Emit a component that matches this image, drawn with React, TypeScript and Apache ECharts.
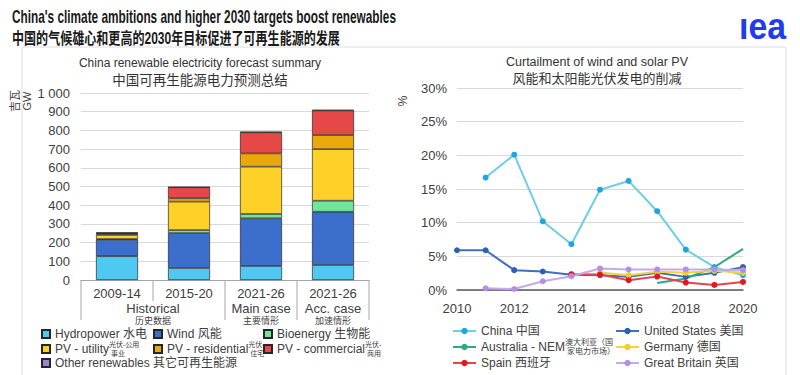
import React, { useEffect, useRef } from 'react';
import * as echarts from 'echarts';

const FONT = "'Liberation Sans', Arial, 'Noto Sans CJK SC', sans-serif";
const TXT = '#404040';

// ---------- Left chart data (GW) ----------
const categories = ['2009-14 hist', '2015-20 hist', '2021-26 main', '2021-26 acc'];
const categoryLabels = ['2009-14', '2015-20', '2021-26', '2021-26'];
const groupLabels = ['Historical', 'Main case', 'Acc. case'];
const groupSubLabels = ['历史数据', '主要情形', '加速情形'];
const groupSpans = [[0, 1], [2, 2], [3, 3]];
const hydropower = [127, 64, 75, 80];
const wind = [88, 187, 255, 285];
const bioenergy = [4, 16, 23, 59];
const pvUtility = [22, 152, 253, 276];
const pvResidential = [6, 18, 71, 75];
const pvCommercial = [5, 59, 113, 132];
const otherRenewables = [1, 1, 2, 2];

// ---------- Right chart data (% curtailment) ----------
const years = [2010, 2011, 2012, 2013, 2014, 2015, 2016, 2017, 2018, 2019, 2020];
const china = [null, 16.7, 20.1, 10.2, 6.8, 14.9, 16.2, 11.7, 6.0, 3.4, 2.2];
const unitedStates = [5.9, 5.9, 2.95, 2.75, 2.25, 2.2, 1.95, 2.55, 1.95, 2.55, 3.4];
const australia = [null, null, null, null, null, null, null, 1.05, 1.7, 3.4, 6.1];
const germany = [null, null, null, null, null, 2.6, 2.2, 2.7, 2.55, 2.85, 2.55];
const spain = [null, null, null, null, 2.35, 2.3, 1.45, 2.0, 1.1, 0.75, 1.2];
const greatBritain = [null, 0.25, 0.15, 1.3, 2.05, 3.2, 3.05, 3.05, 3.05, 3.05, 2.95];

const toPairs = (vals: (number | null)[]) =>
  years.map((y, i) => [y, vals[i]]).filter((p) => p[1] !== null);

const measure = (text: string, font: string) => {
  const ctx = document.createElement('canvas').getContext('2d')!;
  ctx.font = font;
  return ctx.measureText(text).width;
};

export default function App() {
  const ref = useRef<HTMLDivElement>(null);

  useEffect(() => {
    if (!ref.current) return;
    const chart = echarts.init(ref.current, undefined, { renderer: 'svg' });

    const barSeries = [
      { name: 'Hydropower 水电', data: hydropower, color: '#4fc8f2' },
      { name: 'Wind 风能', data: wind, color: '#3b6fcb' },
      { name: 'Bioenergy 生物能', data: bioenergy, color: '#6fe69a' },
      { name: 'PV - utility', data: pvUtility, color: '#ffd027' },
      { name: 'PV - residential', data: pvResidential, color: '#eaa80a' },
      { name: 'PV - commercial', data: pvCommercial, color: '#e64848' },
      { name: 'Other renewables 其它可再生能源', data: otherRenewables, color: '#9d83d8' },
    ].map((s) => ({
      type: 'bar',
      name: s.name,
      stack: 'total',
      xAxisIndex: 0,
      yAxisIndex: 0,
      barWidth: 42,
      data: s.data,
      itemStyle: { color: s.color, borderColor: '#262626', borderWidth: 0.7 },
    }));

    const lineDefs = [
      { name: 'China 中国', data: china, line: '#6ccfe6', dot: '#1fa6de', symbol: true },
      { name: 'United States 美国', data: unitedStates, line: '#3f70b7', dot: '#2a62ad', symbol: true },
      { name: 'Australia - NEM', data: australia, line: '#2fa884', dot: '#2fa884', symbol: false },
      { name: 'Germany 德国', data: germany, line: '#f5d13b', dot: '#f5cc2a', symbol: true },
      { name: 'Spain 西班牙', data: spain, line: '#e0474d', dot: '#e8141e', symbol: true },
      { name: 'Great Britain 英国', data: greatBritain, line: '#c5a9ef', dot: '#b48ee8', symbol: true },
    ];
    const lineSeries = lineDefs.map((s) => ({
      type: 'line',
      name: s.name,
      xAxisIndex: 1,
      yAxisIndex: 1,
      data: toPairs(s.data),
      symbol: s.symbol ? 'circle' : 'none',
      symbolSize: 6,
      lineStyle: { color: s.line, width: 2 },
      itemStyle: { color: s.dot },
    }));

    const legendText = { color: TXT, fontSize: 12, fontFamily: FONT };
    const leftLegendPos: [string, number, number][] = [
      ['Hydropower 水电', 41, 334],
      ['Wind 风能', 153, 334],
      ['Bioenergy 生物能', 263, 334],
      ['PV - utility', 41, 349],
      ['PV - residential', 153, 349],
      ['PV - commercial', 263, 349],
      ['Other renewables 其它可再生能源', 41, 363],
    ];
    const rightLegendPos: [string, number, number][] = [
      ['China 中国', 452, 331],
      ['United States 美国', 615, 331],
      ['Australia - NEM', 452, 347],
      ['Germany 德国', 615, 347],
      ['Spain 西班牙', 452, 363],
      ['Great Britain 英国', 615, 363],
    ];
    const legends = [
      ...leftLegendPos.map(([n, l, c]) => ({
        data: [n], left: l, top: c - 6, itemWidth: 8, itemHeight: 8, icon: 'rect',
        padding: 0, textStyle: { ...legendText, lineHeight: 12 },
      })),
      ...rightLegendPos.map(([n, l, c]) => ({
        data: [n], left: l, top: c - 6, itemWidth: 23, itemHeight: 8,
        padding: 0, textStyle: { ...legendText, lineHeight: 12 },
      })),
    ];

    const option: any = {
      animation: false,
      textStyle: { fontFamily: FONT },
      legend: legends,
      grid: [
        { left: 81, right: 431, top: 93, bottom: 95 },
        { left: 457, right: 57, top: 88, bottom: 85 },
      ],
      xAxis: [
        {
          type: 'category', gridIndex: 0, data: categories,
          axisLine: { lineStyle: { color: '#a6a6a6', width: 1 } },
          axisTick: { show: false },
          axisLabel: {
            color: TXT, fontSize: 13, margin: 7,
            formatter: (_v: string, i: number) => categoryLabels[i],
          },
        },
        {
          type: 'value', gridIndex: 1, min: 2010, max: 2020, interval: 2,
          axisLine: { show: true, lineStyle: { color: '#595959', width: 1.5 } },
          axisTick: { show: false },
          splitLine: { show: false },
          axisLabel: { color: TXT, fontSize: 13, margin: 12, formatter: (v: number) => String(v) },
        },
      ],
      yAxis: [
        {
          type: 'value', gridIndex: 0, min: 0, max: 1000, interval: 100,
          axisLine: { show: false }, axisTick: { show: false },
          splitLine: { lineStyle: { color: '#d9d9d9' } },
          axisLabel: {
            color: TXT, fontSize: 13, margin: 11,
            formatter: (v: number) => String(v).replace(/\B(?=(\d{3})+(?!\d))/g, ' '),
          },
        },
        {
          type: 'value', gridIndex: 1, min: 0, max: 30, interval: 5,
          axisLine: { show: false }, axisTick: { show: false },
          splitLine: { lineStyle: { color: '#d9d9d9' } },
          axisLabel: { color: TXT, fontSize: 13, margin: 10, formatter: '{value}%' },
        },
      ],
      series: [...barSeries, ...lineSeries],
    };
    chart.setOption(option);

    // ---- decorations computed from the axes ----
    const xs = categories.map((_, i) => chart.convertToPixel({ xAxisIndex: 0 } as any, i) as number);
    const y0 = chart.convertToPixel({ yAxisIndex: 0 } as any, 0) as number;
    const band = xs[1] - xs[0];
    const bounds = [...xs.map((x) => x - band / 2), xs[xs.length - 1] + band / 2];
    const groupStarts = new Set(groupSpans.map((g) => g[0]));
    const elements: any[] = [];

    elements.push({
      type: 'rect', shape: { x: 22, y: 47, width: 764, height: 345, r: 2 },
      style: { fill: 'none', stroke: '#dcdcdc', lineWidth: 1 }, z: -10, silent: true,
    });

    bounds.forEach((bx, i) => {
      const long = i === bounds.length - 1 || groupStarts.has(i);
      elements.push({
        type: 'line', shape: { x1: bx, y1: y0, x2: bx, y2: y0 + (long ? 40 : 21) },
        style: { stroke: '#a6a6a6', lineWidth: 1 }, silent: true,
      });
    });
    groupSpans.forEach((g, k) => {
      const cx = (xs[g[0]] + xs[g[1]]) / 2;
      elements.push({
        type: 'text', x: cx, y: y0 + 28,
        style: { text: groupLabels[k], fontSize: 13, fontFamily: FONT, fill: TXT, textAlign: 'center', textVerticalAlign: 'middle' },
      });
      elements.push({
        type: 'text', x: cx, y: y0 + 41,
        style: { text: groupSubLabels[k], fontSize: 9, fontFamily: FONT, fill: TXT, textAlign: 'center', textVerticalAlign: 'middle' },
      });
    });

    // Titles
    const t1 = "China's climate ambitions and higher 2030 targets boost renewables";
    const t1Font = `bold 18px ${FONT}`;
    const t2 = '中国的气候雄心和更高的2030年目标促进了可再生能源的发展';
    const t2Font = `bold 16px ${FONT}`;
    elements.push({
      type: 'text', x: 12, y: 16, scaleX: 384 / measure(t1, t1Font),
      style: { text: t1, fontSize: 18, fontWeight: 'bold', fontFamily: FONT, fill: '#1a1a1a', textVerticalAlign: 'middle' },
    });
    elements.push({
      type: 'text', x: 12, y: 38, scaleX: 328 / measure(t2, t2Font),
      style: { text: t2, fontSize: 16, fontWeight: 'bold', fontFamily: FONT, fill: '#1a1a1a', textVerticalAlign: 'middle' },
    });
    const logoFont = `bold 36px ${FONT}`;
    elements.push({
      type: 'text', x: 739, y: 26, scaleX: 47 / measure('ıea', logoFont),
      style: { text: 'ıea', fontSize: 36, fontWeight: 'bold', fontFamily: FONT, fill: '#1f3cf0', textVerticalAlign: 'middle' },
    });

    // Chart titles
    const ctitle = (text: string, x: number, y: number, size: number) => ({
      type: 'text', x, y,
      style: { text, fontSize: size, fontFamily: FONT, fill: '#333', textAlign: 'center', textVerticalAlign: 'middle' },
    });
    elements.push(ctitle('China renewable electricity forecast summary', 200, 63, 12));
    elements.push(ctitle('中国可再生能源电力预测总结', 200, 80, 13.5));
    elements.push(ctitle('Curtailment of wind and solar PV', 597, 62, 12.5));
    elements.push(ctitle('风能和太阳能光伏发电的削减', 597, 78, 13));

    // Axis names
    elements.push({
      type: 'text', x: 21, y: 101, rotation: Math.PI / 2,
      style: { text: '吉瓦\nGW', fontSize: 11, lineHeight: 12, fontFamily: FONT, fill: TXT, textAlign: 'center', textVerticalAlign: 'middle' },
    });
    elements.push({
      type: 'text', x: 403, y: 101, rotation: Math.PI / 2,
      style: { text: '%', fontSize: 12, fontFamily: FONT, fill: TXT, textAlign: 'center', textVerticalAlign: 'middle' },
    });

    // Small bilingual notes next to legend entries
    const lf = `12px ${FONT}`;
    const note = (mainName: string, left: number, iconW: number, cy: number, l1: string, l2: string, size: number) => {
      const x = left + iconW + 5 + measure(mainName, lf) + 1;
      elements.push({ type: 'text', x, y: cy - 4.5, style: { text: l1, fontSize: size, fontFamily: FONT, fill: TXT, textVerticalAlign: 'middle' } });
      elements.push({ type: 'text', x: x + 2, y: cy + 4, style: { text: l2, fontSize: size, fontFamily: FONT, fill: TXT, textVerticalAlign: 'middle' } });
    };
    note('PV - utility', 41, 8, 349, '光伏-公用', '事业', 7);
    note('PV - residential', 153, 8, 349, '光伏-', '住宅', 7);
    note('PV - commercial', 263, 8, 349, '光伏-', '商用', 7);
    note('Australia - NEM', 452, 23, 347, '澳大利亚（国', '家电力市场）', 8);

    chart.setOption({ graphic: { elements } });

    return () => chart.dispose();
  }, []);

  return <div ref={ref} style={{ width: 800, height: 375, position: 'absolute', left: 0, top: 0, background: '#fff' }} />;
}
